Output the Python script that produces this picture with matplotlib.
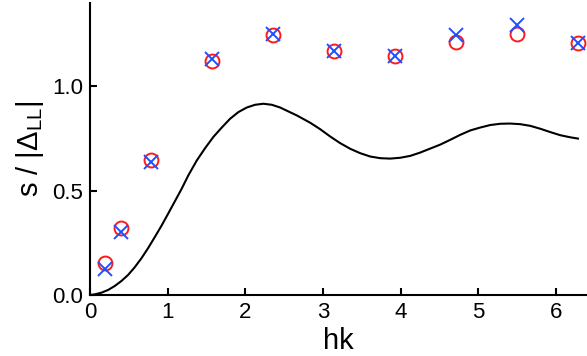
import numpy as np
import matplotlib.pyplot as plt

plt.rcParams['font.family'] = 'Liberation Sans'
plt.rcParams['mathtext.fontset'] = 'custom'
plt.rcParams['mathtext.rm'] = 'Liberation Sans'

# black curve
hk_curve = [0.0, 0.06, 0.146, 0.232, 0.318, 0.404, 0.490, 0.576, 0.662, 0.747,
            0.833, 0.919, 1.005, 1.091, 1.177, 1.267, 1.375, 1.482, 1.589, 1.697,
            1.804, 1.911, 2.019, 2.126, 2.233, 2.341, 2.448, 2.555, 2.663, 2.835,
            2.964, 3.093, 3.222, 3.351, 3.479, 3.608, 3.737, 3.866, 3.995, 4.124,
            4.253, 4.381, 4.510, 4.639, 4.768, 4.897, 5.026, 5.155, 5.284, 5.412,
            5.541, 5.670, 5.799, 5.928, 6.057, 6.186, 6.283]
s_curve = [0.0, 0.003, 0.011, 0.024, 0.043, 0.067, 0.096, 0.133, 0.176, 0.224,
           0.277, 0.331, 0.389, 0.448, 0.507, 0.574, 0.645, 0.704, 0.758, 0.803,
           0.845, 0.877, 0.899, 0.912, 0.917, 0.912, 0.899, 0.880, 0.861, 0.826,
           0.795, 0.760, 0.728, 0.701, 0.680, 0.664, 0.656, 0.654, 0.658, 0.667,
           0.683, 0.702, 0.721, 0.744, 0.768, 0.789, 0.803, 0.815, 0.821, 0.822,
           0.819, 0.811, 0.797, 0.781, 0.766, 0.756, 0.750]

# sample points
hk_pts = [0.196, 0.393, 0.785, 1.571, 2.356, 3.142, 3.927, 4.712, 5.498, 6.283]
s_red = [0.152, 0.320, 0.647, 1.123, 1.245, 1.168, 1.144, 1.211, 1.251, 1.207]
s_blue = [0.123, 0.304, 0.637, 1.131, 1.250, 1.171, 1.144, 1.245, 1.293, 1.207]

fig = plt.figure(figsize=(5.87, 3.56), dpi=100)
ax = fig.add_axes([90/587, 61/356, 497/587, 292/356])

ax.plot(hk_curve, s_curve, color='black', lw=1.5)
ax.plot(hk_pts, s_red, 'o', mfc='none', mec='#ff1a1a', ms=10, mew=1.4, clip_on=False)
ax.plot(hk_pts, s_blue, 'x', color='#1f50ff', ms=10, mew=1.4, clip_on=False)

ax.set_xlim(0, 6.4)
ax.set_ylim(0, 1.40)
ax.set_xticks([0, 1, 2, 3, 4, 5, 6])
ax.set_yticks([0.0, 0.5, 1.0])
ax.set_yticklabels(['0.0', '0.5', '1.0'])

for side in ['top', 'right']:
    ax.spines[side].set_visible(False)
for side in ['left', 'bottom']:
    ax.spines[side].set_linewidth(1.5)
ax.tick_params(direction='in', length=5, width=1.5, labelsize=16, pad=5)

ax.set_xlabel('hk', fontsize=21, labelpad=3)
ax.set_ylabel('s / |Δ$_{\\mathrm{LL}}$|', fontsize=21, labelpad=4)

fig.savefig('out.png', dpi=100)
